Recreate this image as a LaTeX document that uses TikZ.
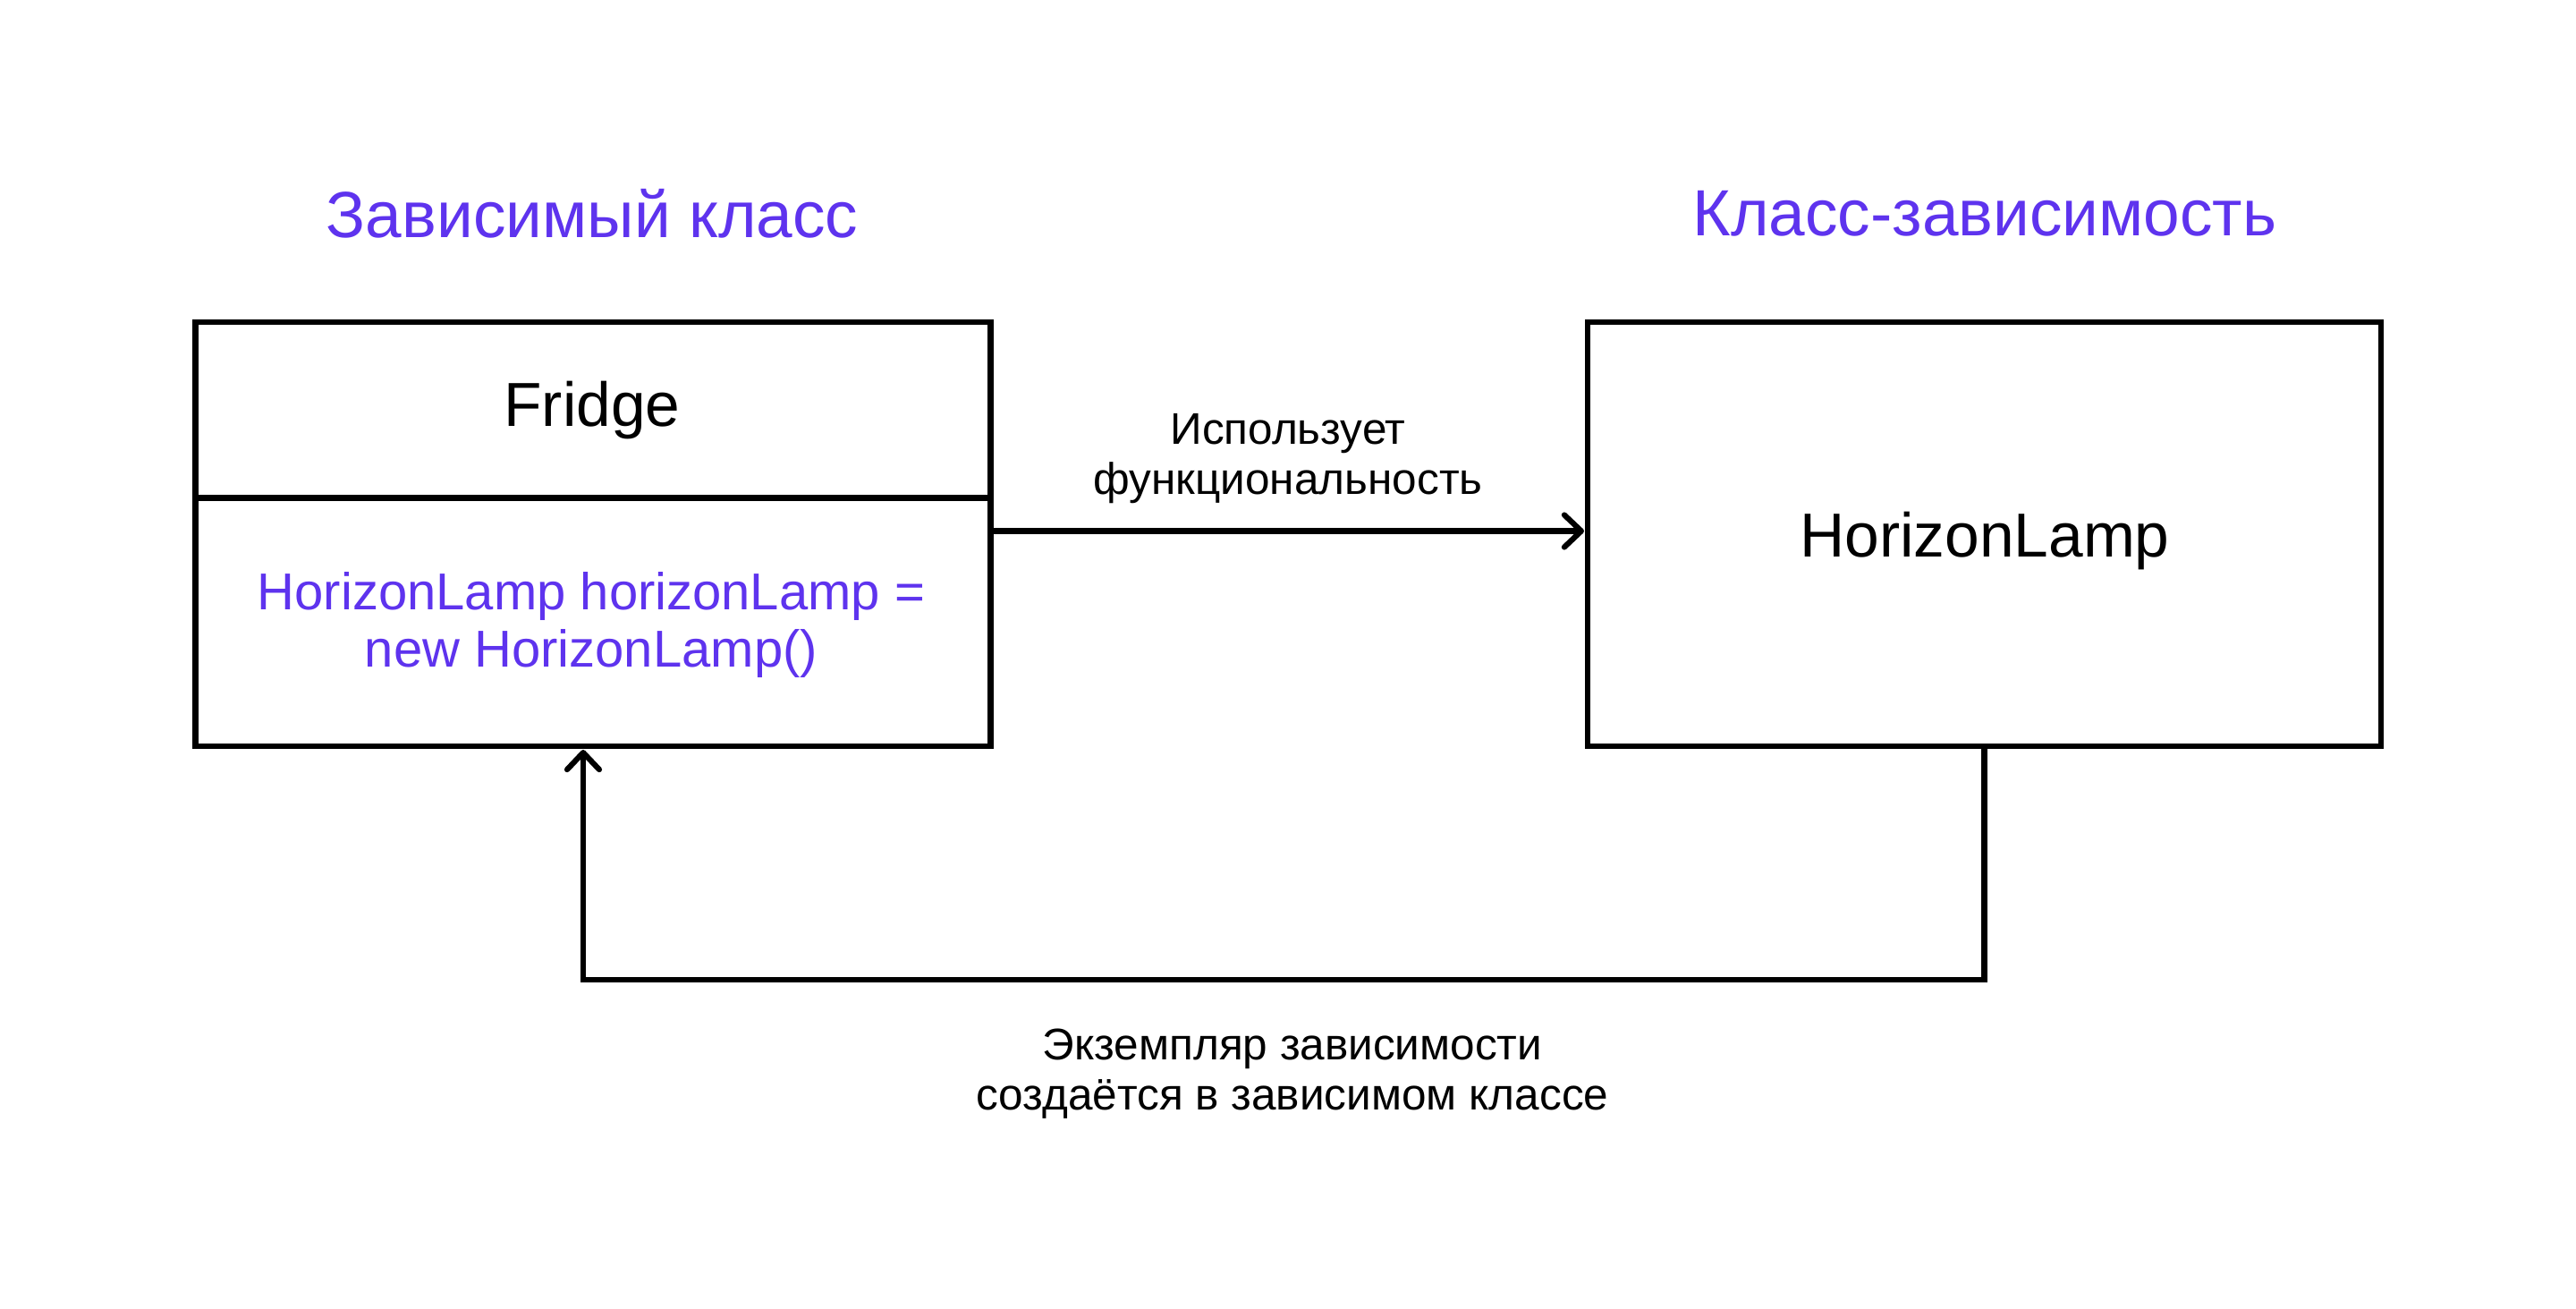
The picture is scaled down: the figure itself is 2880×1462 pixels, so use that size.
\documentclass[tikz,border=0pt]{standalone}
\usepackage{fontspec}
\setmainfont{Liberation Sans}
\usetikzlibrary{arrows.meta}
\definecolor{accent}{RGB}{94,51,238}
\tikzset{
  umlbox/.style={draw=black, line width=6.2pt, rectangle, inner sep=0pt, outer sep=0pt},
  titletext/.style={text=accent, font=\fontsize{73}{80}\selectfont, anchor=base, inner sep=0pt},
  clsname/.style={font=\fontsize{69.5}{76}\selectfont, anchor=base, inner sep=0pt},
  codetext/.style={text=accent, font=\fontsize{58}{64}\selectfont, align=center, anchor=base, inner sep=0pt},
  lbltext/.style={font=\fontsize{49.5}{56}\selectfont, align=center, anchor=base, inner sep=0pt},
  conn/.style={line width=6.2pt, shorten >=4pt,
    -{Straight Barb[length=19pt, width=36pt, line width=6.2pt, line cap=round, round]}}
}
\begin{document}
\begin{tikzpicture}[x=1pt, y=-1pt]
\useasboundingbox (0,0) rectangle (2880,1462);
% boxes
\node[umlbox, minimum width=889pt, minimum height=196.5pt] (fridge) at (663,458.25) {};
\node[umlbox, minimum width=889pt, minimum height=277.5pt] (fridgebody) at (663,695.25) {};
\node[umlbox, minimum width=887pt, minimum height=474pt] (lamp) at (2218.5,597) {};
% titles
\node[titletext] (ttl1) at (662,265) {Зависимый класс};
\node[titletext] (ttl2) at (2219,263) {Класс-зависимость};
% box texts
\node[clsname] (fridgetxt) at (662,476) {Fridge};
\node[codetext] (codetxt) at (661,745.7) {HorizonLamp horizonLamp =\\new HorizonLamp()};
\node[clsname] (lamptxt) at (2219,622) {HorizonLamp};
% connectors
\draw[conn] (fridgebody.east |- 0,593.5) -- (lamp.west |- 0,593.5);
\coordinate (bend) at (652,1094.7);
\draw[conn] (lamp.south) |- (bend) -- (fridgebody.south -| bend);
% labels
\node[lbltext] (uses) at (1440,552.7) {Использует\\функциональность};
\node[lbltext] (inst) at (1445,1240) {Экземпляр зависимости\\создаётся в зависимом классе};
\end{tikzpicture}
\end{document}
